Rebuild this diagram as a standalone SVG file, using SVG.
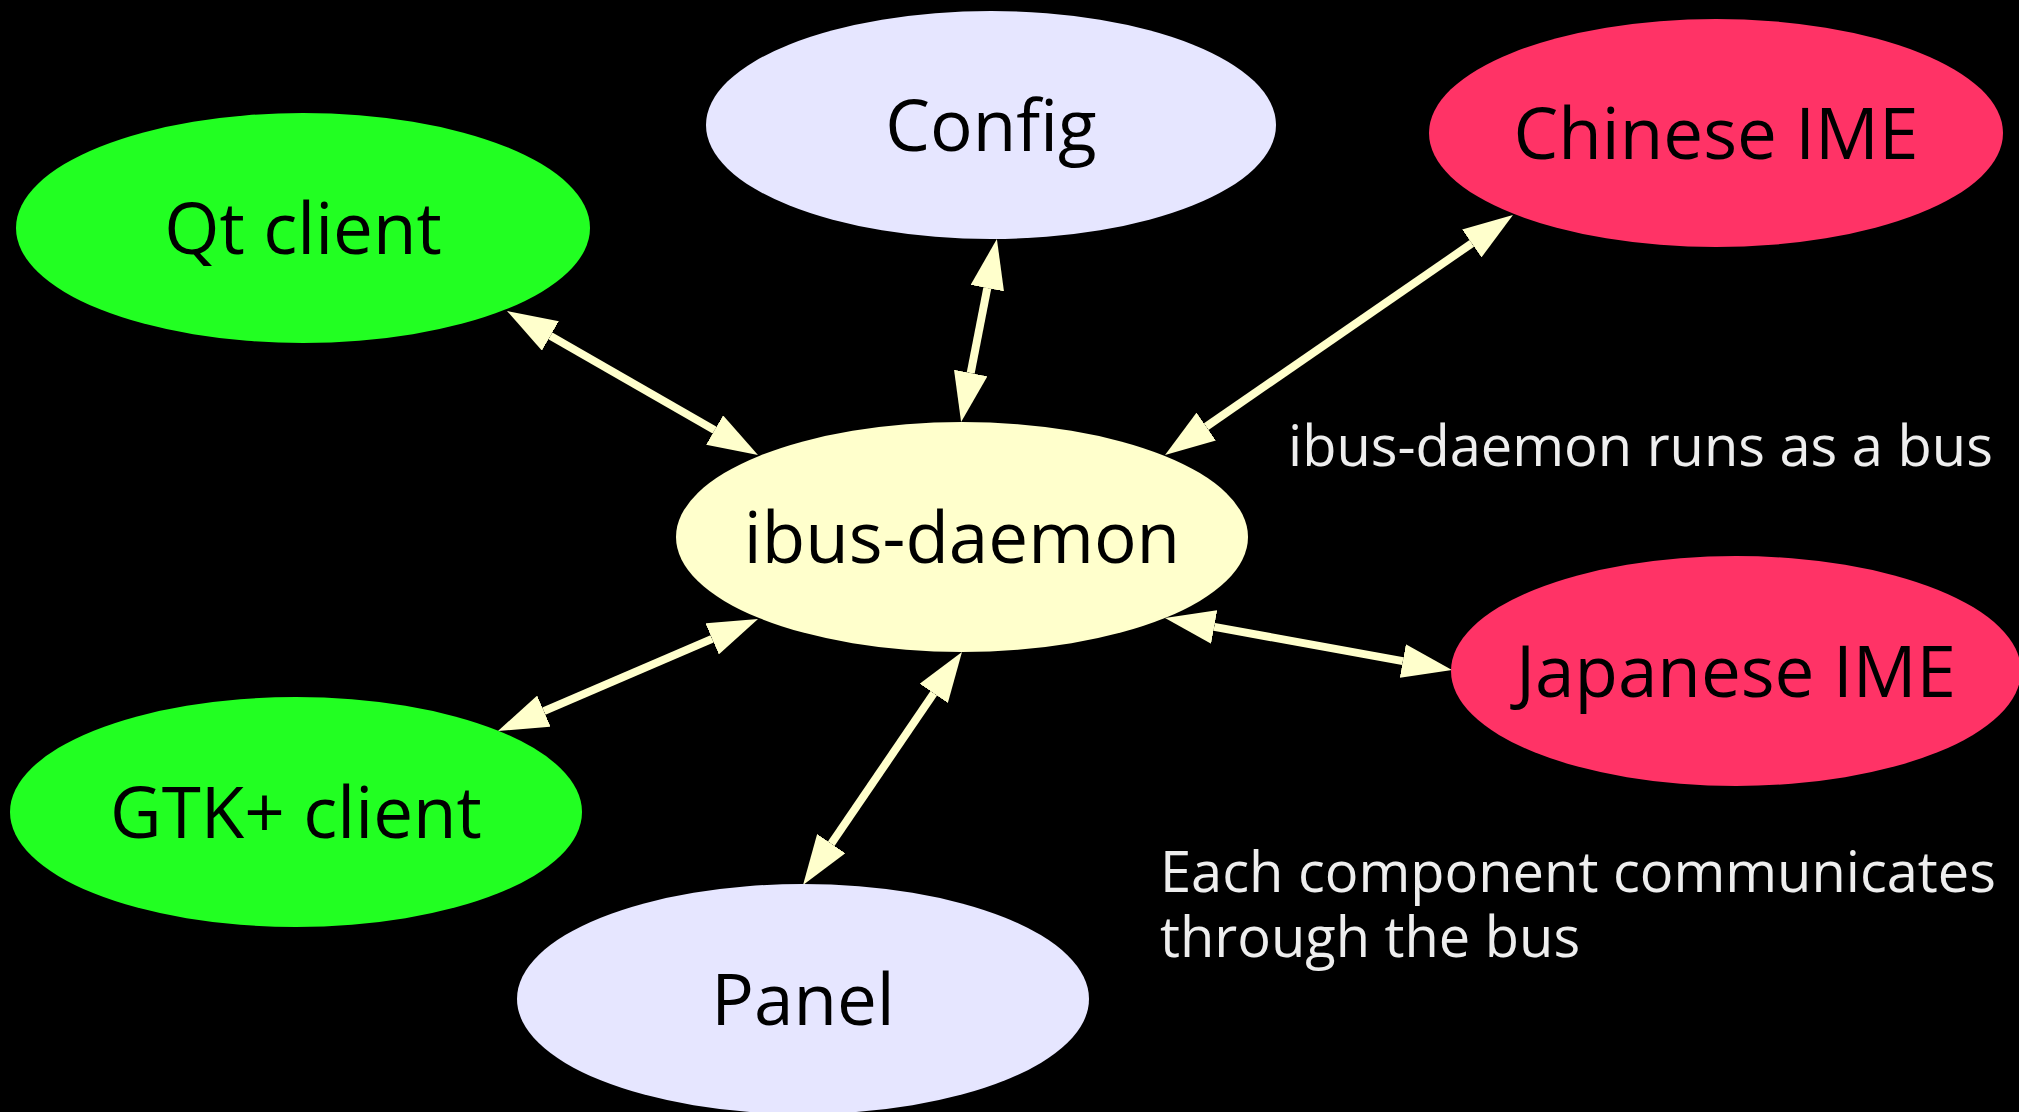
<svg xmlns="http://www.w3.org/2000/svg" width="2019" height="1112" viewBox="0 0 2019 1112">
<style>
.node text{font-family:"Open Sans","Noto Sans","DejaVu Sans",sans-serif;font-size:71px;fill:#000;text-anchor:middle}
.lav{fill:#e6e6ff}
.red{fill:#ff3366}
.grn{fill:#22ff22}
.yel{fill:#ffffcc}
.edge{stroke:#ffffcc;stroke-width:8;fill:none;marker-start:url(#ah);marker-end:url(#ah)}
.note{font-family:"Open Sans","Noto Sans","DejaVu Sans",sans-serif;font-size:56px;fill:#eeeeee}
</style>
<defs>
<marker id="ah" viewBox="0 -17 50 34" markerWidth="50" markerHeight="34" refX="0" refY="0" markerUnits="userSpaceOnUse" orient="auto-start-reverse">
<path d="M0,-17 L50,0 L0,17 z" fill="#ffffcc"/>
</marker>
</defs>
<rect x="0" y="0" width="2019" height="1112" fill="#000"/>
<g id="connectors">
<line class="edge" x1="550.4" y1="335.9" x2="714.6" y2="430.1"/>
<line class="edge" x1="987.3" y1="288.1" x2="970.7" y2="373.0"/>
<line class="edge" x1="1471.8" y1="243.4" x2="1206.2" y2="426.6"/>
<line class="edge" x1="1214.2" y1="626.9" x2="1402.8" y2="661.1"/>
<line class="edge" x1="712.1" y1="638.8" x2="543.9" y2="711.2"/>
<line class="edge" x1="933.8" y1="693.3" x2="831.2" y2="843.7"/>
</g>
<g id="config" class="node"><ellipse class="lav" cx="991" cy="125" rx="285" ry="114"/><text x="991" y="151">Config</text></g>
<g id="chinese-ime" class="node"><ellipse class="red" cx="1716" cy="133" rx="287" ry="114"/><text x="1716" y="159">Chinese IME</text></g>
<g id="qt-client" class="node"><ellipse class="grn" cx="303" cy="228" rx="287" ry="115"/><text x="303" y="254">Qt client</text></g>
<g id="ibus-daemon" class="node"><ellipse class="yel" cx="962" cy="537" rx="286" ry="115"/><text x="962" y="563">ibus-daemon</text></g>
<g id="japanese-ime" class="node"><ellipse class="red" cx="1736" cy="671" rx="285" ry="115"/><text x="1736" y="697">Japanese IME</text></g>
<g id="gtk-client" class="node"><ellipse class="grn" cx="296" cy="812" rx="286" ry="115"/><text x="296" y="838">GTK+ client</text></g>
<g id="panel" class="node"><ellipse class="lav" cx="803" cy="999" rx="286" ry="115"/><text x="803" y="1025">Panel</text></g>
<g id="notes">
<text class="note" x="1288" y="466">ibus-daemon runs as a bus</text>
<text class="note"><tspan x="1160" y="892">Each component communicates</tspan><tspan x="1160" y="957">through the bus</tspan></text>
</g>
</svg>
